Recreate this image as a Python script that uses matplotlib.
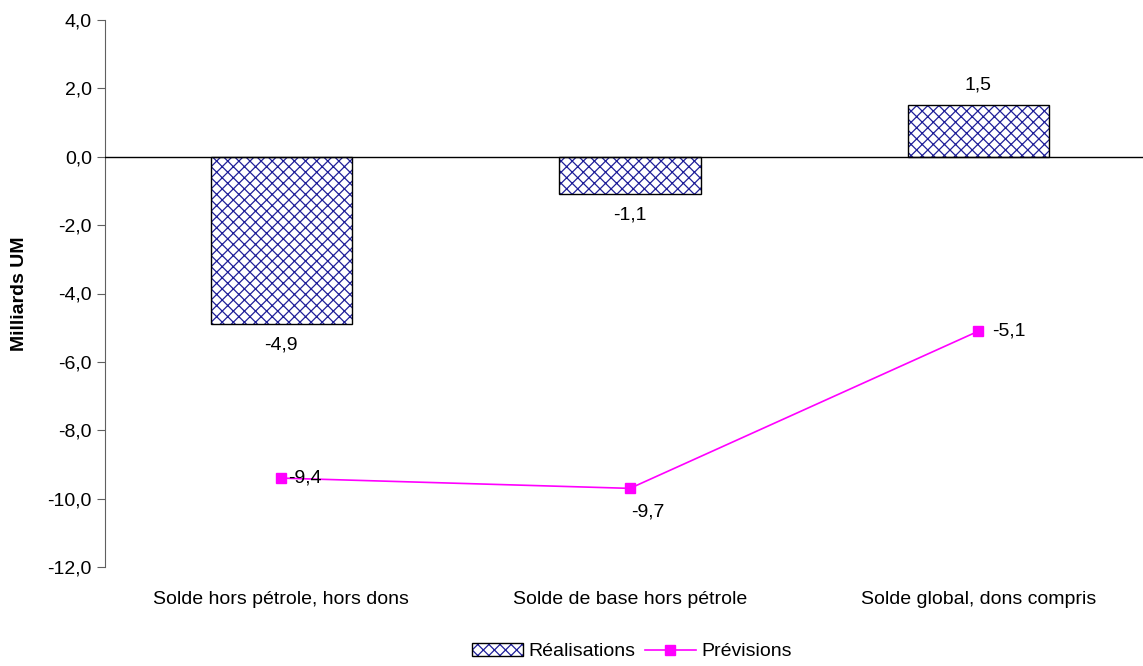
import matplotlib.pyplot as plt
from matplotlib.ticker import FuncFormatter

plt.rcParams['font.family'] = ['Liberation Sans', 'DejaVu Sans']
plt.rcParams['hatch.linewidth'] = 0.9

categories = ["Solde hors pétrole, hors dons", "Solde de base hors pétrole",
              "Solde global, dons compris"]
realisations = [-4.9, -1.1, 1.5]
previsions = [-9.4, -9.7, -5.1]

fmt = lambda v: f"{v:.1f}".replace(".", ",")
FS = 14

fig = plt.figure(figsize=(11.43, 6.66), dpi=100)
ax = fig.add_axes([105 / 1143, 1 - 567 / 666, 1 - 105 / 1143, (567 - 20) / 666])

x = list(range(len(categories)))
bars = ax.bar(x, realisations, width=0.405, color="white", edgecolor="black",
              linewidth=1.0, label="Réalisations", zorder=2)
for b in bars:
    b.set_hatch("xxx")
    b._hatch_color = (0.12, 0.12, 0.6, 1.0)
line, = ax.plot(x, previsions, color="#FF00FF", marker="s", markersize=7,
                linewidth=1.2, label="Prévisions", zorder=3)

# value labels
for xi, v in zip(x, realisations):
    off = 0.35 if v >= 0 else -0.35
    ax.text(xi, v + off, fmt(v), ha="center", va="bottom" if v >= 0 else "top",
            fontsize=FS)
prev_offsets = [(0.02, 0.0, "left"), (0.05, -0.45, "center"), (0.04, 0.0, "left")]
for xi, v, (dx, dy, ha) in zip(x, previsions, prev_offsets):
    ax.text(xi + dx, v + dy, fmt(v), ha=ha,
            va="center" if dy == 0 else "top", fontsize=FS)

ax.axhline(0, color="black", linewidth=1.0, zorder=4)
ax.set_xlim(-0.506, 2.472)
ax.set_ylim(-12, 4)
ax.set_yticks(range(-12, 5, 2))
ax.yaxis.set_major_formatter(FuncFormatter(lambda v, p: fmt(v)))
ax.set_xticks(x)
ax.set_xticklabels(categories)
ax.tick_params(axis="x", length=0, pad=17, labelsize=FS)
ax.tick_params(axis="y", direction="out", length=6, labelsize=FS,
               color="#606060")
for s in ["top", "right", "bottom"]:
    ax.spines[s].set_visible(False)
ax.spines["left"].set_color("#606060")
ax.set_ylabel("Milliards UM", fontsize=FS, fontweight="bold", labelpad=14)

fig.legend(handles=[bars, line], loc="lower center",
           bbox_to_anchor=(0.553, -0.018), ncol=2, frameon=False, fontsize=FS,
           handlelength=2.6, columnspacing=0.5, handletextpad=0.3)

fig.savefig("out.png", dpi=100)
